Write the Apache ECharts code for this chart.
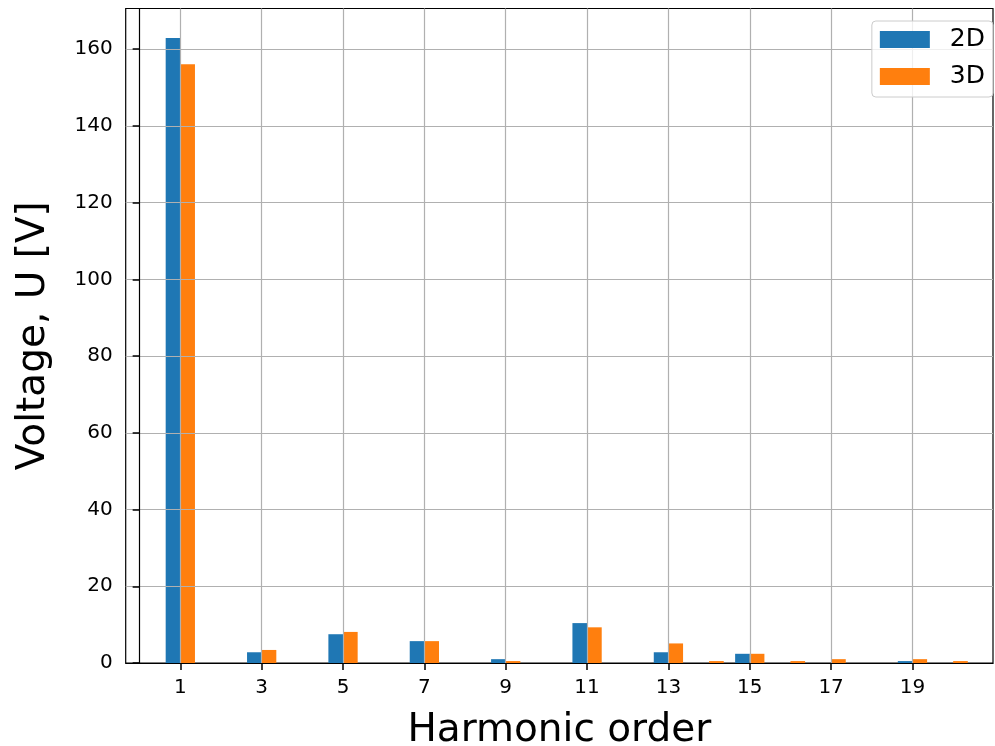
<!DOCTYPE html>
<html>
<head>
<meta charset="utf-8">
<script src="https://cdn.jsdelivr.net/npm/echarts@6/dist/echarts.min.js"></script>
<style>
  html, body { margin: 0; padding: 0; background: #ffffff; overflow: hidden; }
  #chart { width: 995px; height: 746px; }
</style>
</head>
<body>
<div id="chart"></div>
<script>
// Harmonic orders (bar positions)
const harmonics = [1, 2, 3, 4, 5, 6, 7, 8, 9, 10, 11, 12, 13, 14, 15, 16, 17, 18, 19, 20];
// Voltage amplitudes [V]
const values2D = [162.9, 0, 2.8, 0, 7.5, 0, 5.7, 0, 1.0, 0, 10.4, 0, 2.8, 0, 2.4, 0, 0, 0, 0.5, 0];
const values3D = [156.1, 0, 3.4, 0, 8.1, 0, 5.7, 0, 0.5, 0, 9.3, 0, 5.1, 0.5, 2.4, 0.5, 1.0, 0, 1.0, 0.5];
// Tick values
const xTicks = [1, 3, 5, 7, 9, 11, 13, 15, 17, 19];
const yTicks = [0, 20, 40, 60, 80, 100, 120, 140, 160];
const seriesNames = ['2D', '3D'];

const FONT = 'DejaVu Sans';
const chart = echarts.init(document.getElementById('chart'), null, { renderer: 'canvas', width: 995, height: 746 });

function pairs(xs, ys) { return xs.map((x, i) => [x, ys[i]]); }

const option = {
  animation: false,
  backgroundColor: '#ffffff',
  textStyle: { fontFamily: FONT, color: '#000' },
  grid: {
    left: 125.7, top: 8.5, width: 867.3, height: 654.5,
    outerBoundsMode: 'none',
    containLabel: false,
    show: true, borderColor: '#000', borderWidth: 1.2, backgroundColor: 'transparent'
  },
  legend: {
    orient: 'vertical',
    right: 2, top: 21,
    icon: 'rect',
    itemWidth: 50, itemHeight: 17, itemGap: 12,
    padding: [6, 8, 8, 8],
    backgroundColor: 'rgba(255,255,255,0.8)',
    borderColor: '#cccccc', borderWidth: 1, borderRadius: 4,
    textStyle: { fontFamily: FONT, fontSize: 25, color: '#000', padding: [0, 0, 0, 15] },
    data: seriesNames
  },
  xAxis: {
    type: 'value',
    min: -0.343, max: 20.98,
    z: 3,
    name: 'Harmonic order',
    nameLocation: 'middle',
    nameGap: 48,
    nameTextStyle: { fontFamily: FONT, fontSize: 39, color: '#000' },
    axisLine: { show: true, onZero: false, lineStyle: { color: '#000', width: 1.2 } },
    axisTick: { show: true, inside: false, length: 7, customValues: xTicks, lineStyle: { color: '#000', width: 1.5 } },
    axisLabel: { customValues: xTicks, fontFamily: FONT, fontSize: 20, color: '#000', margin: 15 },
    splitLine: { show: true, lineStyle: { color: '#b0b0b0', width: 1.2 } }
  },
  yAxis: {
    type: 'value',
    min: 0, max: 170.6,
    z: 3,
    name: 'Voltage, U [V]',
    nameLocation: 'middle',
    nameGap: 72,
    nameRotate: 90,
    nameTextStyle: { fontFamily: FONT, fontSize: 39, color: '#000' },
    axisLine: { show: true, lineStyle: { color: '#000', width: 1.2 } },
    axisTick: { show: true, inside: false, length: 7, customValues: yTicks, lineStyle: { color: '#000', width: 1.5 } },
    axisLabel: { customValues: yTicks, fontFamily: FONT, fontSize: 20, color: '#000', margin: 13 },
    splitLine: { show: true, lineStyle: { color: '#b0b0b0', width: 1.2 } }
  },
  series: [
    {
      name: seriesNames[0], type: 'bar',
      barWidth: '36%', barGap: '0%',
      itemStyle: { color: '#1f77b4' },
      data: pairs(harmonics, values2D)
    },
    {
      name: seriesNames[1], type: 'bar',
      barWidth: '36%', barGap: '0%',
      itemStyle: { color: '#ff7f0e' },
      data: pairs(harmonics, values3D)
    }
  ]
};
chart.setOption(option);
</script>
</body>
</html>
